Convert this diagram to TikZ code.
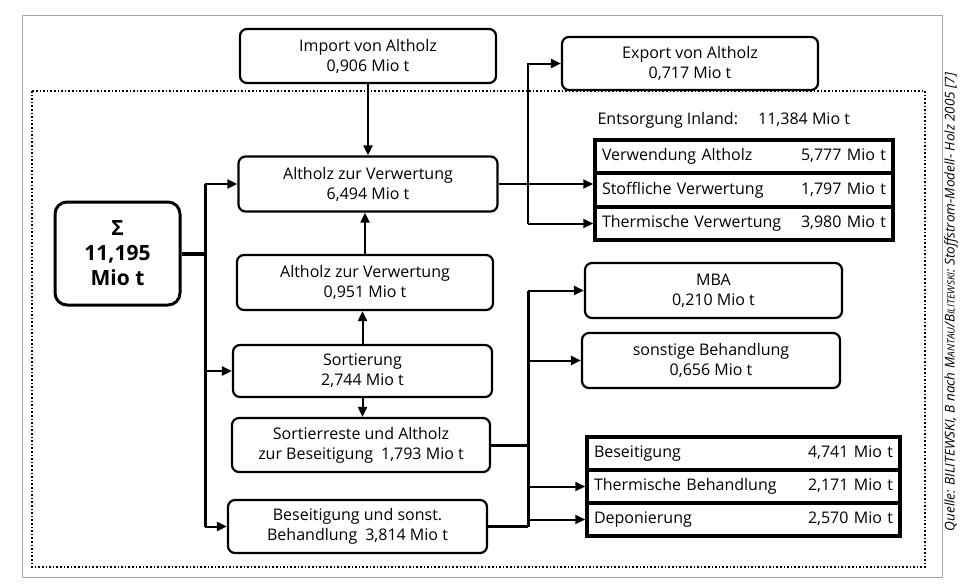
\documentclass[tikz,border=0pt]{standalone}
\usepackage{fontspec}
\setmainfont{Open Sans}
\usetikzlibrary{arrows.meta,calc}
\begin{document}
\begin{tikzpicture}[x=1pt,y=-1pt,
  box/.style={draw, line width=2.2pt, rounded corners=7pt, align=center,
    font=\fontsize{16}{20}\selectfont, inner sep=2pt},
  sumbox/.style={draw, line width=3pt, rounded corners=12pt, align=center,
    font=\bfseries\fontsize{21}{25}\selectfont, inner sep=2pt},
  rowbox/.style={draw, line width=3.5pt, minimum height=33pt, inner xsep=7pt,
    font=\fontsize{16}{18}\selectfont, anchor=center},
  arr/.style={line width=2pt, -{Triangle[length=10pt,width=9pt]}},
  trunk/.style={line width=3pt},
]
\useasboundingbox (0,0) rectangle (960,586);
% frames
\draw[gray!70, line width=0.8pt] (22,15) rectangle (942,577);
\draw[dotted, line width=1.6pt] (32,91) rectangle (925,567);

% left column
\node[box, minimum width=256pt, minimum height=54pt] (imp) at (368,56) {Import von Altholz\\0,906 Mio t};
\node[box, minimum width=259pt, minimum height=55pt] (av1) at (368,184) {Altholz zur Verwertung\\6,494 Mio t};
\node[sumbox, minimum width=125pt, minimum height=103pt] (sum) at (117.5,253.5) {Σ\\11,195\\Mio t};
\node[box, minimum width=256pt, minimum height=55pt] (av2) at (365,282.5) {Altholz zur Verwertung\\0,951 Mio t};
\node[box, minimum width=259pt, minimum height=52pt] (sort) at (362.5,371) {Sortierung\\2,744 Mio t};
\node[box, minimum width=258pt, minimum height=54pt] (rest) at (361,445) {Sortierreste und Altholz\\zur Beseitigung\enspace 1,793 Mio t};
\node[box, minimum width=259pt, minimum height=53pt] (bes) at (357.5,526.5) {Beseitigung und sonst.\\Behandlung\enspace 3,814 Mio t};

% right column
\node[box, minimum width=256pt, minimum height=53pt] (exp) at (690,63.5) {Export von Altholz\\0,717 Mio t};
\node[anchor=west, font=\fontsize{16}{18}\selectfont] (ent) at (594,120) {Entsorgung Inland:\quad\ 11,384 Mio t};
\node[rowbox, text width=284pt] (vr1) at (744,156.5) {Verwendung Altholz\hfill 5,777 Mio t};
\node[rowbox, text width=284pt] (vr2) at (744,190) {Stoffliche Verwertung\hfill 1,797 Mio t};
\node[rowbox, text width=284pt] (vr3) at (744,223.5) {Thermische Verwertung\hfill 3,980 Mio t\hspace*{4pt}};

\node[box, minimum width=257pt, minimum height=55pt] (mba) at (713.5,290.5) {MBA\\0,210 Mio t};
\node[box, minimum width=258pt, minimum height=55pt] (sonst) at (711,360.5) {sonstige Behandlung\\0,656 Mio t};
\node[rowbox, text width=299pt] (br1) at (743.5,453.5) {Beseitigung\hfill 4,741 Mio t};
\node[rowbox, text width=299pt] (br2) at (743.5,486.5) {Thermische Behandlung\hfill 2,171 Mio t};
\node[rowbox, text width=299pt] (br3) at (743.5,519.5) {Deponierung\hfill 2,570 Mio t};

% source
\node[rotate=90, font=\itshape\fontsize{13.5}{15}\selectfont] (src) at (951,302)
  {Quelle: BILITEWSKI, B nach M{\fontsize{10}{11}\selectfont ANTAU}/B{\fontsize{10}{11}\selectfont ILITEWSKI}: Stoffstrom-Modell- Holz 2005 [7]};

% vertical arrows in left column
\draw[arr] (imp.south) -- (imp.south |- av1.north);
\draw[arr] (av2.north) -- (av2.north |- av1.south);
\draw[arr] (sort.north) -- (sort.north |- av2.south);
\draw[arr] (sort.south) -- (sort.south |- rest.north);

% left trunk
\coordinate (lt) at (205,0);
\draw[line width=4pt] (sum.east) -- (lt |- sum.east);
\draw[trunk] (lt |- av1.west) -- (lt |- bes.west);
\draw[arr] (lt |- av1.west) -- (av1.west);
\draw[arr] (lt |- sort.west) -- (sort.west);
\draw[arr] (lt |- bes.west) -- (bes.west);

% upper right distribution
\coordinate (rt) at (528,0);
\draw[arr] (av1.east) -- (av1.east -| vr2.west);
\draw[arr] (rt |- vr3.west) -- (rt |- exp.west) -- (exp.west);
\draw[arr] (rt |- vr3.west) -- (vr3.west);

% lower right distribution
\draw[trunk] (rest.east) -- (rt |- rest.east);
\draw[trunk] (bes.east) -- (rt |- bes.east);
\draw[trunk] (rt |- mba.west) -- (rt |- bes.east);
\draw[arr] (rt |- mba.west) -- (mba.west);
\draw[arr] (rt |- sonst.west) -- (sonst.west);
\draw[arr] (rt |- br2.west) -- (br2.west);
\draw[arr] (rt |- br3.west) -- (br3.west);
\end{tikzpicture}
\end{document}
